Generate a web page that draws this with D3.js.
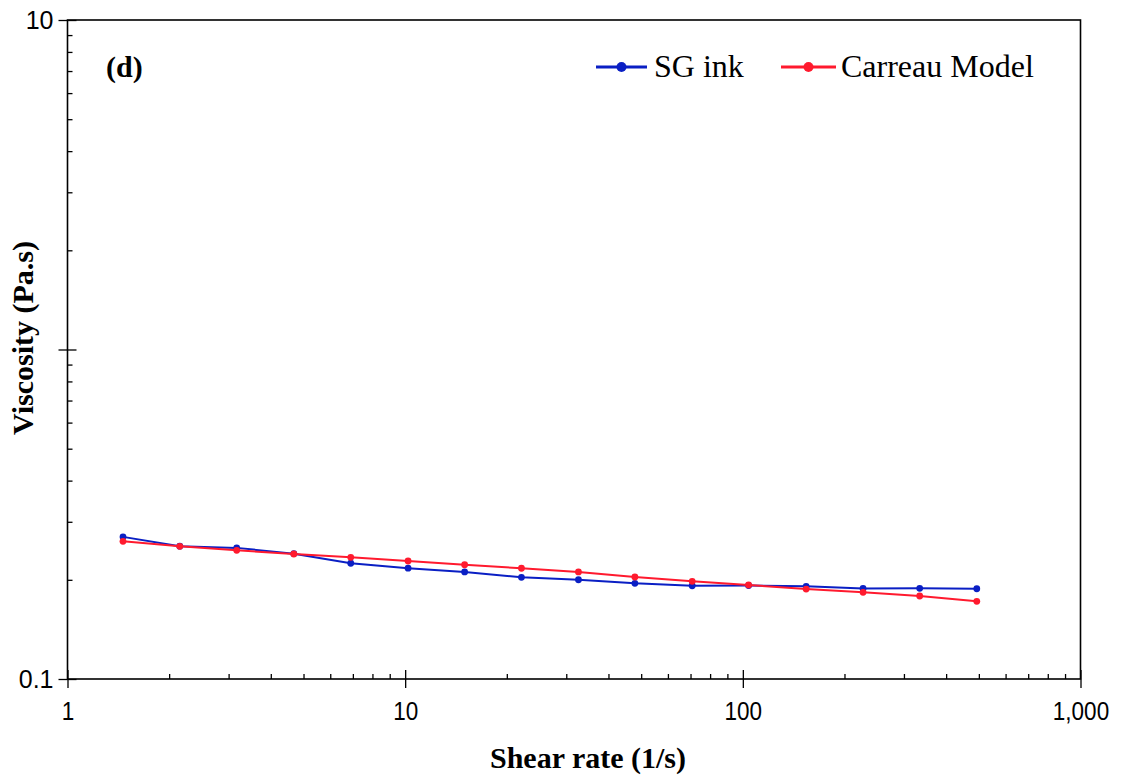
<!DOCTYPE html>
<html><head><meta charset="utf-8">
<script src="https://cdn.jsdelivr.net/npm/d3@7"></script>
<style>body{margin:0;background:#fff}svg{display:block}</style>
</head><body>
<script>
const shearRate = [1.46, 2.15, 3.17, 4.68, 6.9, 10.2, 15.0, 22.1, 32.6, 47.9, 70.8, 104, 154, 227, 334, 493];
const sgInk     = [0.270, 0.253, 0.250, 0.240, 0.2245, 0.217, 0.2113, 0.2035, 0.2001, 0.1951, 0.1919, 0.1922, 0.1911, 0.1882, 0.1885, 0.1879];
const carreau   = [0.2617, 0.2527, 0.2458, 0.2395, 0.2340, 0.2281, 0.2222, 0.2168, 0.2113, 0.2040, 0.1979, 0.1929, 0.1875, 0.1833, 0.1786, 0.1721];
const seriesNames = ["SG ink", "Carreau Model"];
const xTickValues = [1, 10, 100, 1000];
const xTickLabels = ["1", "10", "100", "1,000"];
const yTickValues = [0.1, 1, 10];
const yTickLabels = ["0.1", "", "10"];

const W = 1122, H = 780;
const L = 67.5, R = 1080.5, T = 20, B = 679;
const svg = d3.select("body").append("svg").attr("width", W).attr("height", H);

const x = d3.scaleLog().domain([1, 1000]).range([L, R]);
const y = d3.scaleLog().domain([0.1, 10]).range([B, T]);

const minorX = [], minorY = [];
[1, 10, 100].forEach(d => { for (let k = 2; k <= 9; k++) minorX.push(d * k); });
[0.1, 1].forEach(d => { for (let k = 2; k <= 9; k++) minorY.push(+(d * k).toFixed(3)); });

const axisStyle = g => {
  g.select(".domain").remove();
  g.selectAll(".tick line").attr("stroke", "#000").attr("stroke-width", 1.3);
};
const labelFont = "'Liberation Sans', Arial, sans-serif";
const serif = "'Liberation Serif', 'Times New Roman', serif";

// x axis: major ticks outward with labels
svg.append("g").attr("transform", `translate(0,${B})`)
  .call(d3.axisBottom(x).tickValues(xTickValues).tickSize(9).tickPadding(14)
    .tickFormat((d, i) => xTickLabels[i]))
  .call(axisStyle)
  .call(g => g.selectAll("text").attr("font-family", labelFont)
    .attr("font-size", 25).attr("fill", "#000")
    .attr("transform", "scale(0.9,1)"));
svg.append("g").attr("transform", `translate(0,${B})`)
  .call(d3.axisBottom(x).tickValues(xTickValues).tickSize(-9).tickFormat(""))
  .call(axisStyle);
svg.append("g").attr("transform", `translate(0,${B})`)
  .call(d3.axisBottom(x).tickValues(minorX).tickSize(-5).tickFormat(""))
  .call(axisStyle);

// y axis
svg.append("g").attr("transform", `translate(${L},0)`)
  .call(d3.axisLeft(y).tickValues(yTickValues).tickSize(9).tickPadding(5)
    .tickFormat((d, i) => yTickLabels[i]))
  .call(axisStyle)
  .call(g => g.selectAll("text").attr("font-family", labelFont)
    .attr("font-size", 25).attr("fill", "#000"));
svg.append("g").attr("transform", `translate(${L},0)`)
  .call(d3.axisLeft(y).tickValues(yTickValues).tickSize(-9).tickFormat(""))
  .call(axisStyle);
svg.append("g").attr("transform", `translate(${L},0)`)
  .call(d3.axisLeft(y).tickValues(minorY).tickSize(-5).tickFormat(""))
  .call(axisStyle);

// frame
svg.append("rect").attr("x", L).attr("y", T).attr("width", R - L).attr("height", B - T)
  .attr("fill", "none").attr("stroke", "#000").attr("stroke-width", 1.6);

const colors = ["#0a1fc4", "#ff1a2e"];
const seriesData = [sgInk, carreau];
const line = d3.line().x(d => x(d[0])).y(d => y(d[1]));

seriesData.forEach((vals, si) => {
  const pts = shearRate.map((s, i) => [s, vals[i]]);
  svg.append("path").datum(pts).attr("d", line)
    .attr("fill", "none").attr("stroke", colors[si]).attr("stroke-width", 2);
  svg.append("g").selectAll("circle").data(pts).join("circle")
    .attr("cx", d => x(d[0])).attr("cy", d => y(d[1])).attr("r", 3.4)
    .attr("fill", colors[si]);
});

// panel label
svg.append("text").attr("x", 106).attr("y", 77).text("(d)")
  .attr("font-family", serif)
  .attr("font-weight", "bold").attr("font-size", 30).attr("fill", "#000");

// legend
const legendItems = [
  { x0: 596, x1: 647, tx: 654 },
  { x0: 781, x1: 836, tx: 841 }
];
legendItems.forEach((it, i) => {
  const g = svg.append("g");
  g.append("line").attr("x1", it.x0).attr("x2", it.x1).attr("y1", 67).attr("y2", 67)
    .attr("stroke", colors[i]).attr("stroke-width", 3);
  g.append("circle").attr("cx", (it.x0 + it.x1) / 2).attr("cy", 67).attr("r", 5).attr("fill", colors[i]);
  g.append("text").attr("x", it.tx).attr("y", 77).text(seriesNames[i])
    .attr("font-family", serif)
    .attr("font-size", 32).attr("fill", "#000");
});

// axis titles
svg.append("text").attr("x", 588).attr("y", 768).attr("text-anchor", "middle")
  .text("Shear rate (1/s)")
  .attr("font-family", serif)
  .attr("font-weight", "bold").attr("font-size", 30).attr("fill", "#000");
svg.append("text").attr("transform", `translate(33,${338}) rotate(-90)`)
  .attr("text-anchor", "middle").text("Viscosity (Pa.s)")
  .attr("font-family", serif)
  .attr("font-weight", "bold").attr("font-size", 30).attr("fill", "#000");
</script>
</body></html>
